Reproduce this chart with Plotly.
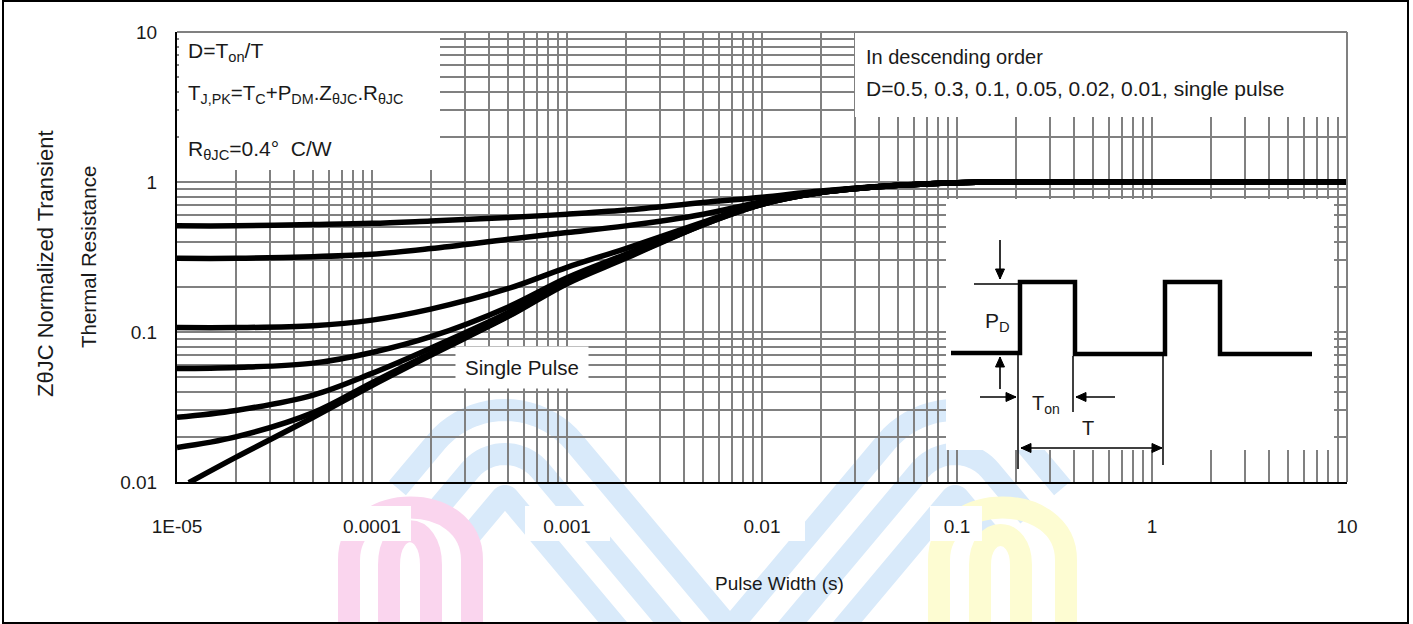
import math
import plotly.graph_objects as go

# ---------------- data ----------------
pulse_width_s = [1e-5, 2e-5, 5e-5, 1e-4, 2e-4, 5e-4, 1e-3, 2e-3, 5e-3,
                 1e-2, 2e-2, 5e-2, 1e-1, 2e-1, 1, 10]
z_d050 = [0.51, 0.51, 0.52, 0.53, 0.55, 0.58, 0.61, 0.65, 0.73, 0.79, 0.87, 0.95, 0.99, 1.0, 1.0, 1.0]
z_d030 = [0.31, 0.31, 0.318, 0.33, 0.36, 0.415, 0.46, 0.51, 0.61, 0.74, 0.86, 0.95, 0.99, 1.0, 1.0, 1.0]
z_d010 = [0.107, 0.107, 0.11, 0.12, 0.142, 0.195, 0.27, 0.36, 0.54, 0.72, 0.85, 0.95, 0.99, 1.0, 1.0, 1.0]
z_d005 = [0.057, 0.058, 0.062, 0.073, 0.093, 0.147, 0.23, 0.33, 0.53, 0.72, 0.85, 0.95, 0.99, 1.0, 1.0, 1.0]
z_d002 = [0.027, 0.030, 0.038, 0.053, 0.078, 0.135, 0.22, 0.32, 0.53, 0.71, 0.85, 0.95, 0.99, 1.0, 1.0, 1.0]
z_d001 = [0.017, 0.020, 0.029, 0.046, 0.072, 0.128, 0.215, 0.315, 0.52, 0.71, 0.85, 0.95, 0.99, 1.0, 1.0, 1.0]
single_pulse_t = [1.15e-5, 2e-5, 5e-5, 1e-4, 2e-4, 5e-4, 1e-3, 2e-3, 5e-3,
                  1e-2, 2e-2, 5e-2, 1e-1, 2e-1, 1, 10]
z_single = [0.0099, 0.0146, 0.027, 0.044, 0.070, 0.127, 0.21, 0.31, 0.52, 0.71, 0.85, 0.95, 0.99, 1.0, 1.0, 1.0]

x_decades = [1e-5, 1e-4, 1e-3, 1e-2, 1e-1, 1, 10]
x_tick_labels = ["1E-05", "0.0001", "0.001", "0.01", "0.1", "1", "10"]
y_decades = [0.01, 0.1, 1, 10]
y_tick_labels = ["0.01", "0.1", "1", "10"]

# ---------------- figure geometry ----------------
W, H = 1413, 624
L, R, T, B = 177, 1347, 32, 482
FONT = "Liberation Sans, Arial, sans-serif"
GRID = "#808080"
INK = "#1a1a1a"


def px(x):
    return (x - L) / (R - L)


def py(y):
    return (B - y) / (B - T)


def pt(x, y):
    return f"{px(x):.5f},{py(y):.5f}"


def minor_vals(decades):
    return [m * d for d in decades[:-1] for m in range(2, 10)]


fig = go.Figure()
series = [z_d050, z_d030, z_d010, z_d005, z_d002, z_d001]
for s in series:
    fig.add_trace(go.Scatter(x=pulse_width_s, y=s, mode="lines",
                             line=dict(color="black", width=5.5, shape="spline", smoothing=1.0),
                             hoverinfo="skip"))
fig.add_trace(go.Scatter(x=single_pulse_t, y=z_single, mode="lines",
                         line=dict(color="black", width=5.5, shape="spline", smoothing=1.0),
                         hoverinfo="skip"))

shapes = []


def poly_path(points):
    return "M " + " L ".join(pt(x, y) for x, y in points)


# ---- faint background watermark ----
BLUE = "#d9eafa"
alpha = math.radians(40)
ca, sa = math.cos(alpha), math.sin(alpha)
C1 = (505, 500)
C2 = (955, 500)
for r in (90, 46, 4):
    pts = []
    n_l = (-ca, -sa)
    p0 = (C1[0] + r * n_l[0], C1[1] + r * n_l[1])
    pts.append((p0[0] - sa * 60, p0[1] + ca * 60))
    ang0 = math.atan2(n_l[1], n_l[0])
    ang1 = math.atan2(-sa, ca)
    if ang1 < ang0:
        ang1 += 2 * math.pi
    for i in range(21):
        a = ang0 + (ang1 - ang0) * i / 20
        pts.append((C1[0] + r * math.cos(a), C1[1] + r * math.sin(a)))
    p1 = pts[-1]
    xm = (C1[0] + C2[0]) / 2
    s = (xm - p1[0]) / sa
    pts.append((xm, p1[1] + s * ca))
    ang0 = math.atan2(-sa, -ca)
    ang1 = math.atan2(-sa, ca)
    if ang1 < ang0:
        ang1 += 2 * math.pi
    for i in range(21):
        a = ang0 + (ang1 - ang0) * i / 20
        pts.append((C2[0] + r * math.cos(a), C2[1] + r * math.sin(a)))
    p2 = pts[-1]
    pts.append((p2[0] + sa * 60, p2[1] + ca * 60))
    shapes.append(dict(type="path", xref="paper", yref="paper", layer="below",
                       path=poly_path(pts), line=dict(color=BLUE, width=22),
                       fillcolor="rgba(0,0,0,0)"))


def arch(xl, xr, ytop_ctrl, ylegs, color):
    return dict(type="path", xref="paper", yref="paper", layer="below",
                path=(f"M {pt(xl, 700)} L {pt(xl, ylegs)} C {pt(xl, ytop_ctrl)} "
                      f"{pt(xr, ytop_ctrl)} {pt(xr, ylegs)} L {pt(xr, 700)}"),
                line=dict(color=color, width=22), fillcolor="rgba(0,0,0,0)")


PINK = "#fad5ee"
YELL = "#fdfcd2"
shapes.append(arch(349, 472, 490, 560, PINK))
shapes.append(arch(389, 431, 520, 565, PINK))
shapes.append(arch(939, 1066, 490, 560, YELL))
shapes.append(arch(980, 1021, 525, 565, YELL))

# white halos behind tick labels that sit on the watermark
for (x0, y0, x1, y1) in [(333, 506, 411, 541), (930, 506, 982, 541), (525, 506, 610, 541),
                         (720, 506, 805, 541)]:
    shapes.append(dict(type="rect", xref="paper", yref="paper", layer="below",
                       x0=px(x0), x1=px(x1), y0=py(y1), y1=py(y0),
                       fillcolor="white", line=dict(width=0)))

# ---- white boxes over grid ----
for (x0, y0, x1, y1) in [(179, 33, 440, 170), (855, 33, 1346, 117), (946, 199, 1334, 450)]:
    shapes.append(dict(type="rect", xref="paper", yref="paper", layer="above",
                       x0=px(x0), x1=px(x1), y0=py(y1), y1=py(y0),
                       fillcolor="white", line=dict(width=0)))

# ---- pulse diagram ----
wave = [(951, 353), (1020, 353), (1020, 282), (1075, 282), (1075, 354), (1165, 354),
        (1165, 282), (1220, 282), (1220, 354), (1312, 354)]
shapes.append(dict(type="path", xref="paper", yref="paper", layer="above",
                   path=poly_path(wave), line=dict(color="black", width=4.5),
                   fillcolor="rgba(0,0,0,0)"))
for (x0, y0, x1, y1) in [(974, 284, 1018, 284), (1018, 355, 1018, 469),
                         (1073, 356, 1073, 412), (1163, 356, 1163, 465)]:
    shapes.append(dict(type="line", xref="paper", yref="paper", layer="above",
                       x0=px(x0), y0=py(y0), x1=px(x1), y1=py(y1),
                       line=dict(color="black", width=1.5)))


def arrow_head(xh, yh, dx, dy, size=10, half=4.5):
    n = math.hypot(dx, dy)
    ux, uy = dx / n, dy / n
    bx, by = xh - ux * size, yh - uy * size
    p1 = (bx - uy * half, by + ux * half)
    p2 = (bx + uy * half, by - ux * half)
    return dict(type="path", xref="paper", yref="paper", layer="above",
                path=f"M {pt(xh, yh)} L {pt(*p1)} L {pt(*p2)} Z",
                fillcolor="black", line=dict(color="black", width=1))


def arrow(xh, yh, xt, yt, both=False):
    dx, dy = xh - xt, yh - yt
    shapes.append(dict(type="line", xref="paper", yref="paper", layer="above",
                       x0=px(xt), y0=py(yt), x1=px(xh), y1=py(yh),
                       line=dict(color="black", width=1.6)))
    shapes.append(arrow_head(xh, yh, dx, dy))
    if both:
        shapes.append(arrow_head(xt, yt, -dx, -dy))


arrow(1000, 279, 1000, 240)
arrow(1000, 357, 1000, 389)
arrow(1016, 397, 980, 397)
arrow(1076, 397, 1115, 397)
arrow(1162, 448, 1021, 448, both=True)

# ---- frame ----
shapes.append(dict(type="line", xref="paper", yref="paper", layer="above",
                   x0=0, x1=1, y0=1, y1=1, line=dict(color=GRID, width=2)))
shapes.append(dict(type="line", xref="paper", yref="paper", layer="above",
                   x0=1, x1=1, y0=0, y1=1, line=dict(color=GRID, width=2)))
shapes.append(dict(type="rect", xref="paper", yref="paper", layer="above",
                   x0=px(3), x1=px(1408), y0=py(623), y1=py(1),
                   line=dict(color="black", width=2), fillcolor="rgba(0,0,0,0)"))

ann = []


def text(x, y, s, size=20, xanchor="center", angle=0, **kw):
    d = dict(x=px(x), y=py(y), xref="paper", yref="paper", text=s, showarrow=False,
             xanchor=xanchor, yanchor="middle", textangle=angle,
             font=dict(family=FONT, size=size, color=INK))
    d.update(kw)
    ann.append(d)


text(45, 264, "Z\u03b8JC Normalized Transient", size=22, angle=-90)
text(88, 257, "Thermal Resistance", size=20.5, angle=-90)
text(780, 583, "Pulse Width (s)", size=19)

text(186, 52, "D=T<sub>on</sub>/T", size=21, xanchor="left")
text(186, 94, "T<sub>J,PK</sub>=T<sub>C</sub>+P<sub>DM</sub>.Z<sub>\u03b8JC</sub>.R<sub>\u03b8JC</sub>",
     size=20.5, xanchor="left")
text(186, 150, "R<sub>\u03b8JC</sub>=0.4\u00b0  C/W", size=21, xanchor="left")
text(864, 57, "In descending order", size=20, xanchor="left")
text(864, 88, "D=0.5, 0.3, 0.1, 0.05, 0.02, 0.01, single pulse", size=21, xanchor="left")
text(522, 368, "Single Pulse", size=20.5, bgcolor="white", borderpad=9)

text(998, 322, "P<sub>D</sub>", size=21)
text(1046, 404, "T<sub>on</sub>", size=20)
text(1088, 428, "T", size=20)

axis_common = dict(type="log", showgrid=True, gridcolor=GRID, gridwidth=2, zeroline=False,
                   showline=True, linecolor="black", linewidth=2, ticks="",
                   tickfont=dict(family=FONT, size=19, color=INK),
                   automargin=False, fixedrange=True)

fig.update_layout(
    width=W, height=H,
    margin=dict(l=L, r=W - R, t=T, b=H - B, pad=0),
    paper_bgcolor="white", plot_bgcolor="rgba(0,0,0,0)",
    showlegend=False,
    font=dict(family=FONT, color=INK),
    shapes=shapes, annotations=ann,
    xaxis=dict(axis_common, range=[-5, 1], tickmode="array", tickvals=x_decades,
               ticktext=x_tick_labels, ticklabelstandoff=26,
               minor=dict(tickmode="array", tickvals=minor_vals(x_decades), showgrid=True,
                          gridcolor=GRID, gridwidth=2, ticks="")),
    yaxis=dict(axis_common, range=[-2, 1], tickmode="array", tickvals=y_decades,
               ticktext=y_tick_labels, ticklabelstandoff=14,
               minor=dict(tickmode="array", tickvals=minor_vals(y_decades), showgrid=True,
                          gridcolor=GRID, gridwidth=2, ticks="")),
)

fig.write_html("out.html")
